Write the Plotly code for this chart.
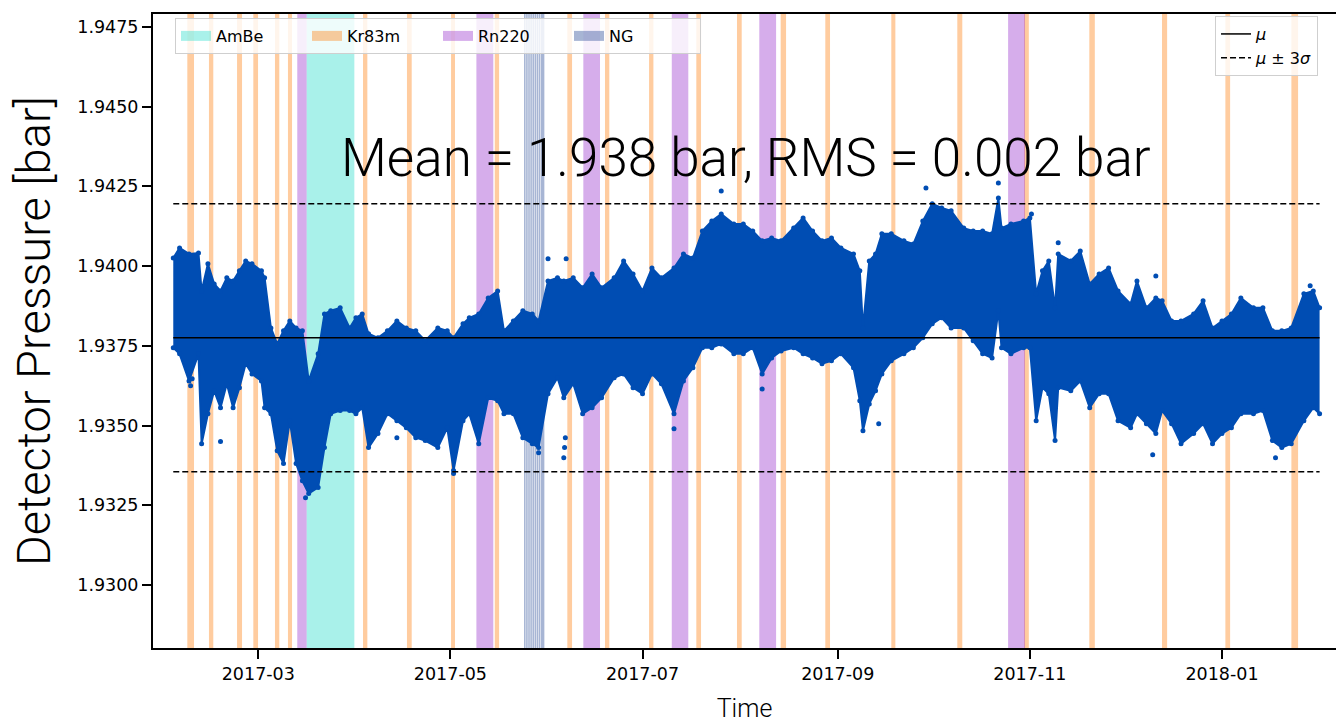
import plotly.graph_objects as go

# ---------------- data ----------------
# sampled envelope of the dense detector-pressure scatter [bar]
DATES = [
    "2017-02-02", "2017-02-04", "2017-02-07", "2017-02-10", "2017-02-11", "2017-02-13", "2017-02-15",
    "2017-02-17", "2017-02-19", "2017-02-21", "2017-02-23", "2017-02-25", "2017-02-27",
    "2017-03-02", "2017-03-03", "2017-03-05", "2017-03-07", "2017-03-09", "2017-03-11", "2017-03-13",
    "2017-03-15", "2017-03-17", "2017-03-20", "2017-03-22", "2017-03-24", "2017-03-27", "2017-03-30",
    "2017-04-01", "2017-04-03", "2017-04-05", "2017-04-08", "2017-04-11", "2017-04-14", "2017-04-17",
    "2017-04-20", "2017-04-23", "2017-04-27", "2017-04-30",
    "2017-05-02", "2017-05-05", "2017-05-07", "2017-05-10", "2017-05-13", "2017-05-16", "2017-05-18",
    "2017-05-21", "2017-05-24", "2017-05-27", "2017-05-29",
    "2017-06-01", "2017-06-04", "2017-06-06", "2017-06-09", "2017-06-12", "2017-06-15", "2017-06-18",
    "2017-06-22", "2017-06-25", "2017-06-28",
    "2017-07-01", "2017-07-04", "2017-07-07", "2017-07-11", "2017-07-14", "2017-07-17", "2017-07-20",
    "2017-07-23", "2017-07-26", "2017-07-30",
    "2017-08-02", "2017-08-05", "2017-08-08", "2017-08-11", "2017-08-14", "2017-08-18", "2017-08-21",
    "2017-08-24", "2017-08-27", "2017-08-30",
    "2017-09-02", "2017-09-06", "2017-09-08", "2017-09-09", "2017-09-11", "2017-09-13", "2017-09-15",
    "2017-09-18", "2017-09-22", "2017-09-25", "2017-09-28",
    "2017-10-01", "2017-10-04", "2017-10-07", "2017-10-11", "2017-10-14", "2017-10-17", "2017-10-20",
    "2017-10-22", "2017-10-23", "2017-10-26", "2017-10-30",
    "2017-11-01", "2017-11-03", "2017-11-05", "2017-11-07", "2017-11-09", "2017-11-10", "2017-11-14",
    "2017-11-17", "2017-11-20", "2017-11-23", "2017-11-26", "2017-11-29",
    "2017-12-03", "2017-12-05", "2017-12-08", "2017-12-11", "2017-12-13", "2017-12-16", "2017-12-19",
    "2017-12-23", "2017-12-26", "2017-12-29",
    "2018-01-01", "2018-01-04", "2018-01-07", "2018-01-11", "2018-01-14", "2018-01-17", "2018-01-20",
    "2018-01-23", "2018-01-27", "2018-01-30",
    "2018-02-01",
]
UPPER = [
    1.94025, 1.94057, 1.94038, 1.94041, 1.93922, 1.94007, 1.93944,
    1.93922, 1.93963, 1.93953, 1.93985, 1.94016, 1.94007,
    1.93985, 1.93963, 1.93806, 1.93756, 1.93797, 1.93828, 1.93806,
    1.93797, 1.93640, 1.93725, 1.93850, 1.93860, 1.93869, 1.93806,
    1.93838, 1.93850, 1.93788, 1.93775, 1.93797, 1.93828, 1.93806,
    1.93797, 1.93766, 1.93806, 1.93797,
    1.93775, 1.93819, 1.93838, 1.93850, 1.93900, 1.93922, 1.93797,
    1.93828, 1.93860, 1.93850, 1.93828,
    1.93953, 1.93963, 1.93953, 1.93963, 1.93932, 1.93975, 1.93932,
    1.93963, 1.94016, 1.93975,
    1.93922, 1.93994, 1.93963, 1.93994, 1.94038, 1.94025, 1.94110,
    1.94141, 1.94163, 1.94132,
    1.94132, 1.94110, 1.94079, 1.94088, 1.94079, 1.94119, 1.94151,
    1.94110, 1.94079, 1.94088,
    1.94057, 1.94038, 1.93985, 1.93806, 1.94016, 1.94038, 1.94101,
    1.94101, 1.94079, 1.94069, 1.94141,
    1.94195, 1.94182, 1.94173, 1.94119, 1.94110, 1.94110, 1.94101,
    1.94213, 1.94119, 1.94132, 1.94141,
    1.94151, 1.93913, 1.93985, 1.94016, 1.93869, 1.94038, 1.94016,
    1.94047, 1.93944, 1.93975, 1.93994, 1.93922,
    1.93881, 1.93953, 1.93869, 1.93900, 1.93891, 1.93828, 1.93828,
    1.93850, 1.93891, 1.93806,
    1.93828, 1.93850, 1.93900, 1.93869, 1.93869, 1.93797, 1.93797,
    1.93806, 1.93913, 1.93922,
    1.93869,
]
LOWER = [
    1.93744, 1.93725, 1.93640, 1.93725, 1.93443, 1.93537, 1.93609,
    1.93556, 1.93631, 1.93556, 1.93619, 1.93694, 1.93662,
    1.93640, 1.93556, 1.93537, 1.93421, 1.93381, 1.93515, 1.93381,
    1.93327, 1.93287, 1.93306, 1.93431, 1.93537, 1.93547, 1.93547,
    1.93537, 1.93556, 1.93431, 1.93475, 1.93537, 1.93515, 1.93493,
    1.93462, 1.93453, 1.93431, 1.93493,
    1.93359, 1.93515, 1.93537, 1.93443, 1.93587, 1.93578, 1.93537,
    1.93537, 1.93462, 1.93443, 1.93431,
    1.93600, 1.93650, 1.93587, 1.93631, 1.93537, 1.93556, 1.93587,
    1.93650, 1.93662, 1.93619,
    1.93600, 1.93662, 1.93631, 1.93537, 1.93640, 1.93681, 1.93744,
    1.93744, 1.93756, 1.93725,
    1.93725, 1.93744, 1.93662, 1.93712, 1.93734, 1.93744, 1.93725,
    1.93712, 1.93694, 1.93703,
    1.93725, 1.93681, 1.93578, 1.93484, 1.93568, 1.93609, 1.93662,
    1.93703, 1.93725, 1.93744, 1.93775,
    1.93819, 1.93838, 1.93806, 1.93806, 1.93766, 1.93725, 1.93712,
    1.93860, 1.93744, 1.93725, 1.93744,
    1.93744, 1.93515, 1.93619, 1.93600, 1.93453, 1.93619, 1.93609,
    1.93640, 1.93556, 1.93600, 1.93600, 1.93515,
    1.93493, 1.93537, 1.93506, 1.93475, 1.93547, 1.93506, 1.93443,
    1.93475, 1.93506, 1.93443,
    1.93475, 1.93493, 1.93537, 1.93537, 1.93547, 1.93453, 1.93431,
    1.93443, 1.93515, 1.93556,
    1.93537,
]
# isolated readings sticking out of the band
OUT_DATES = [
    "2017-02-07 12:00", "2017-02-08", "2017-02-17", "2017-03-16", "2017-03-22", "2017-04-14",
    "2017-05-02", "2017-05-29", "2017-06-06", "2017-06-06 06:00", "2017-06-06 12:00", "2017-07-11",
    "2017-07-26", "2017-06-06 18:00", "2017-06-01", "2017-08-08", "2017-09-29", "2017-10-22",
    "2017-09-14", "2017-11-01 12:00", "2017-11-10", "2017-12-10", "2018-01-18", "2017-12-11",
    "2018-01-29",
]
OUT_VALUES = [
    1.93625, 1.93647, 1.93450, 1.93274, 1.93468, 1.93462,
    1.93350, 1.93415, 1.93399, 1.93431, 1.93462, 1.93490,
    1.94235, 1.94023, 1.94023, 1.93615, 1.94245, 1.94260,
    1.93506, 1.94163, 1.94073, 1.93409, 1.93399, 1.93969,
    1.93938,
]

MU = 1.93775
SIGMA = 0.0014

# calibration periods
KR83M_START = [
    "2017-02-06 11:00", "2017-02-13 08:00", "2017-02-22 06:00", "2017-02-27 10:00", "2017-03-06 07:00",
    "2017-03-10 10:00", "2017-04-03 06:00", "2017-04-17 05:00", "2017-05-01 05:00", "2017-05-15 02:00",
    "2017-06-07 03:00", "2017-06-19 02:00", "2017-07-03 02:00", "2017-07-18 02:00", "2017-07-31 00:00",
    "2017-08-13 21:00", "2017-08-28 01:00", "2017-09-18 00:00", "2017-10-08 23:00", "2017-10-30 04:00",
    "2017-11-19 21:00", "2017-12-12 23:00", "2018-01-02 02:00", "2018-01-23 01:00",
]
KR83M_END = [
    "2017-02-08 14:00", "2017-02-14 17:00", "2017-02-23 20:00", "2017-02-28 22:00", "2017-03-07 16:00",
    "2017-03-11 17:00", "2017-04-04 15:00", "2017-04-18 17:00", "2017-05-02 11:00", "2017-05-16 11:00",
    "2017-06-08 15:00", "2017-06-20 11:00", "2017-07-04 11:00", "2017-07-19 14:00", "2017-08-01 12:00",
    "2017-08-15 14:00", "2017-08-29 13:00", "2017-09-19 07:00", "2017-10-10 13:00", "2017-10-31 16:00",
    "2017-11-21 15:00", "2017-12-14 14:00", "2018-01-03 14:00", "2018-01-25 04:00",
]
RN220_START = ["2017-03-13 09:00", "2017-05-09 06:00", "2017-06-12 05:00",
               "2017-07-10 07:00", "2017-08-07 02:00", "2017-10-25 02:00"]
RN220_END = ["2017-03-16 09:00", "2017-05-14 15:00", "2017-06-17 12:00",
             "2017-07-15 13:00", "2017-08-12 10:00", "2017-10-30 11:00"]
AMBE_START = ["2017-03-16 09:00"]
AMBE_END = ["2017-03-31 12:00"]
NG_START = ["2017-05-24 09:00", "2017-05-25 01:00", "2017-05-25 17:00", "2017-05-26 09:00", "2017-05-27 01:00",
            "2017-05-27 17:00", "2017-05-28 09:00", "2017-05-29 01:00", "2017-05-29 17:00"]
NG_END = ["2017-05-24 21:00", "2017-05-25 13:00", "2017-05-26 05:00", "2017-05-26 21:00", "2017-05-27 13:00",
          "2017-05-28 05:00", "2017-05-28 21:00", "2017-05-29 13:00", "2017-05-30 20:00"]

Y_TICKS = [1.9300, 1.9325, 1.9350, 1.9375, 1.9400, 1.9425, 1.9450, 1.9475]
X_RANGE = ["2017-01-26 13:30", "2018-02-06 05:00"]
Y_RANGE = [1.92803, 1.94790]

# ---------------- styling ----------------
BLUE = "#004db3"
COL_AMBE = "rgba(64,224,208,0.45)"
COL_KR = "rgba(255,127,14,0.40)"
COL_RN = "rgba(153,50,204,0.40)"
COL_NG = "rgba(60,90,160,0.45)"
LIGHT = "Roboto"
TICKFONT = dict(family="DejaVu Sans", size=17.5, color="black")

fig = go.Figure()

# dense scatter band: lower edge, upper edge (filled between), outliers
fig.add_trace(go.Scatter(
    x=DATES, y=LOWER, mode="lines+markers", showlegend=False, hoverinfo="skip",
    line=dict(color=BLUE, width=2), marker=dict(color=BLUE, size=5)))
fig.add_trace(go.Scatter(
    x=DATES, y=UPPER, mode="lines+markers", showlegend=False, hoverinfo="skip",
    fill="tonexty", fillcolor=BLUE,
    line=dict(color=BLUE, width=2), marker=dict(color=BLUE, size=5)))
fig.add_trace(go.Scatter(
    x=OUT_DATES, y=OUT_VALUES, mode="markers", showlegend=False, hoverinfo="skip",
    marker=dict(color=BLUE, size=5)))

# mean and +-3 sigma lines spanning the data period
t0, t1 = DATES[0], DATES[-1]
fig.add_trace(go.Scatter(
    x=[t0, t1], y=[MU, MU], mode="lines", name="<i>μ</i>", legend="legend2",
    line=dict(color="black", width=1.5)))
fig.add_trace(go.Scatter(
    x=[t0, t1, None, t0, t1],
    y=[MU + 3 * SIGMA, MU + 3 * SIGMA, None, MU - 3 * SIGMA, MU - 3 * SIGMA],
    mode="lines", name="<i>μ</i> ± 3<i>σ</i>", legend="legend2",
    line=dict(color="black", width=1.5, dash="6px,3px")))

# legend entries for calibration bands
for name, col in [("AmBe", COL_AMBE), ("Kr83m", COL_KR), ("Rn220", COL_RN), ("NG", COL_NG)]:
    fig.add_trace(go.Scatter(
        x=[None], y=[None], mode="lines", name=name, legend="legend",
        line=dict(color=col, width=10)))

shapes = []
for starts, ends, col in [(KR83M_START, KR83M_END, COL_KR), (RN220_START, RN220_END, COL_RN),
                          (AMBE_START, AMBE_END, COL_AMBE), (NG_START, NG_END, COL_NG)]:
    for s, e in zip(starts, ends):
        shapes.append(dict(type="rect", xref="x", yref="paper", x0=s, x1=e, y0=0, y1=1,
                           fillcolor=col, line=dict(width=0), layer="below"))

fig.update_layout(
    width=1336, height=725,
    margin=dict(l=153, r=0, t=14, b=77),
    paper_bgcolor="white", plot_bgcolor="white",
    shapes=shapes,
    annotations=[dict(
        text="Mean = 1.938 bar, RMS = 0.002 bar", xref="paper", yref="paper",
        x=0.5013, y=0.773, xanchor="center", yanchor="middle", showarrow=False,
        font=dict(family=LIGHT, size=53, color="black", weight=300))],
    legend=dict(
        orientation="h", traceorder="normal", x=0.0186, y=0.9937, xanchor="left", yanchor="top",
        bgcolor="rgba(255,255,255,0.8)", bordercolor="#cfcfcf", borderwidth=1,
        font=dict(family="DejaVu Sans", size=16, color="black"),
        entrywidth=86, itemwidth=30),
    legend2=dict(
        orientation="v", traceorder="normal", x=0.9848, y=0.9968, xanchor="right", yanchor="top",
        bgcolor="rgba(255,255,255,0.8)", bordercolor="#cfcfcf", borderwidth=1,
        font=dict(family="DejaVu Sans", size=16, color="black"), itemwidth=30,
        tracegroupgap=4),
    xaxis=dict(
        type="date", range=X_RANGE, tick0="2017-01-01", dtick="M2", tickformat="%Y-%m",
        showgrid=False, zeroline=False, showline=True, linecolor="black", linewidth=2, mirror=True,
        ticks="outside", ticklen=9, tickwidth=1.6, tickcolor="black", tickfont=TICKFONT,
        title=dict(text="Time", font=dict(family=LIGHT, size=25, color="black", weight=300), standoff=16)),
    yaxis=dict(
        range=Y_RANGE, tickvals=Y_TICKS, tickformat=".4f",
        showgrid=False, zeroline=False, showline=True, linecolor="black", linewidth=2, mirror=False,
        ticks="outside", ticklen=9, tickwidth=1.6, tickcolor="black", tickfont=TICKFONT,
        title=dict(text="Detector Pressure [bar]",
                   font=dict(family=LIGHT, size=47, color="black", weight=300), standoff=12)),
)

fig.write_html("out.html")
